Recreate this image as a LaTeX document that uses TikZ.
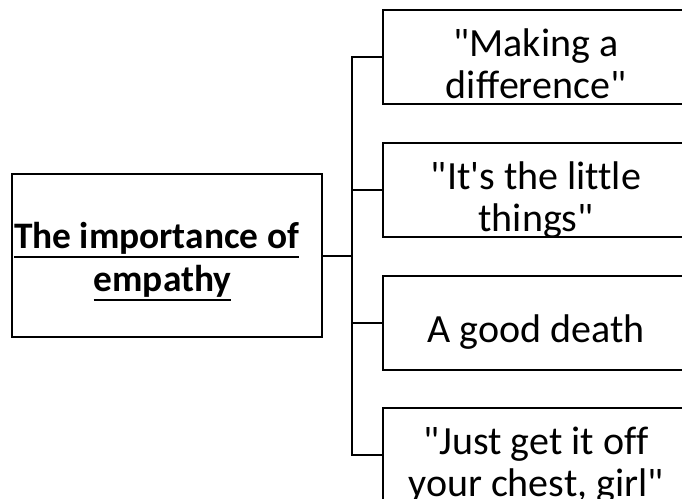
\documentclass[tikz,border=0pt]{standalone}
\usepackage{fontspec}
\setmainfont{Carlito}[Ligatures=NoCommon]
\usepackage{tikz}

% underline drawn a little below the baseline
\newsavebox{\ulsave}
\newcommand{\ulined}[1]{\sbox{\ulsave}{#1}\rlap{\rule[-4.5pt]{\wd\ulsave}{1pt}}\usebox{\ulsave}}
% same height and depth for every line
\newcommand{\lstrut}{\rule[-5pt]{0pt}{16pt}}

\tikzset{
  rootbox/.style={draw, line width=1pt, minimum width=155pt, minimum height=81.5pt, inner sep=0pt},
  leafbox/.style={draw, line width=1pt, minimum width=153pt, minimum height=47pt, inner sep=0pt},
  rootlabel/.style={align=center, inner sep=0pt, font=\fontsize{18.7}{21.5}\selectfont\bfseries},
  leaflabel/.style={align=center, inner sep=0pt, yshift=-5.75pt, font=\fontsize{20}{21}\selectfont},
  link/.style={line width=1pt}
}

\begin{document}
\begin{tikzpicture}[x=0.5pt,y=-0.5pt]
                    \useasboundingbox (0,0) rectangle (682,499);
                    \clip (0,0) rectangle (682,499);
                    \fill[white] (0,0) rectangle (682,499);

                    % Topic
                    \node[rootbox] (root) at (167,255.5) {};
                    \node[rootlabel, xshift=-2.25pt, yshift=-3pt] (roottxt) at (root.center)
                        {\ulined{The importance of}\hspace*{6pt}\\ \ulined{empathy}};

                    % Themes
                    \node[leafbox] (b1) at (536,57) {};
                    \node[leaflabel] (b1txt) at (b1.center)
                        {\lstrut\textquotedbl Making a\\ \lstrut difference\textquotedbl};
                    \node[leafbox] (b2) at (536,190) {};
                    \node[leaflabel] (b2txt) at (b2.center)
                        {\lstrut\textquotedbl It\textquotesingle s the little\\ \lstrut things\textquotedbl};
                    \node[leafbox] (b3) at (536,322.5) {};
                    \node[leaflabel] (b3txt) at (b3.center) {\lstrut A good death};
                    \node[leafbox] (b4) at (536,455) {};
                    \node[leaflabel] (b4txt) at (b4.center)
                        {\lstrut\textquotedbl Just get it off\\ \lstrut your chest, girl\textquotedbl};

                    % Links
                    \coordinate (trunk) at (352,255.5);
                    \draw[link] (root.east) -- (trunk);
                    \draw[link] (b1.west) -- (b1.west -| trunk) -- (b4.west -| trunk) -- (b4.west);
                    \foreach \b in {b2,b3}
                        \draw[link] (\b.west -| trunk) -- (\b.west);
                \end{tikzpicture}
\end{document}
